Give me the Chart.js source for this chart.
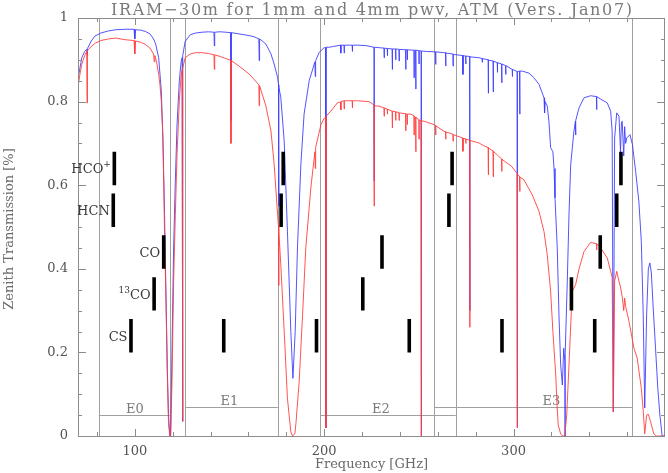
<!DOCTYPE html>
<html><head><meta charset="utf-8">
<script src="https://cdn.jsdelivr.net/npm/chart.js@4.4.0/dist/chart.umd.min.js"></script>
<style>html,body{margin:0;padding:0;background:#fff;overflow:hidden}#wrap{width:668px;height:473px}</style>
</head><body><div id="wrap"><canvas id="c" width="668" height="473"></canvas></div>
<script>
// ---------- texts ----------
const titleText = "IRAM\u221230m for 1mm and 4mm pwv, ATM (Vers. Jan07)";
const xAxisTitle = "Frequency [GHz]";
const yAxisTitle = "Zenith Transmission [%]";

// ---------- axes ----------
const xRange = [70, 380];
const yRange = [0, 1];
const xTickValues = [100, 200, 300];
const xTickLabels = ["100", "200", "300"];
const xMinorStep = 20;
const yTickValues = [0, 0.2, 0.4, 0.6, 0.8, 1];
const yTickLabels = ["0", "0.2", "0.4", "0.6", "0.8", "1"];
const yMinorStep = 0.05;

// ---------- 1mm pwv (blue) ----------
const freq1mm = [70,71,72,73.5,74.6,74.8,75,77,79,82,86,90,95,99.6,100,100.4,103,105.5,108,109.9,111,112.6,114,114.9,115.7,116.5,117.2,117.8,118.5,118.9,119.6,120.5,121.4,122.3,123.5,124.5,125,125.2,125.4,126.6,129.3,132,135.5,139,141.8,142,142.2,145,148,150.6,150.8,151,155,160.4,163,165.5,165.7,165.9,169.2,171.9,173.6,175.4,175.9,176,176.1,177.1,178.9,180.6,182.4,183.5,184.7,185.9,187.7,189.4,192.1,195.1,195.3,195.5,197.4,200,200.8,200.9,201,202.6,205,208.7,208.8,208.9,210.5,210.6,210.7,214.8,214.9,215,217.6,222,226.3,226.4,226.5,229,231.6,231.7,231.8,233.3,233.4,233.5,235.9,236,236.1,237.7,237.8,237.9,239.5,239.6,239.7,243,243.1,243.2,243.8,243.9,244,247.4,247.5,247.6,248.3,248.4,248.5,250,250.1,250.2,251.2,251.3,251.4,254,258.8,258.9,259,263,264.1,264.2,264.3,268,268.1,268.2,273.2,273.3,273.4,274.7,274.8,274.9,276.8,276.9,277,281.8,283.4,283.5,283.6,286.6,286.7,286.8,289.2,289.3,289.4,291.4,291.5,291.6,293.7,293.8,293.9,295.8,295.9,296,299.3,299.4,299.5,301.9,302,302.1,303.2,303.3,303.4,304.6,308.2,310.8,313.5,316.1,316.4,316.7,317.8,318.7,319.6,320.8,321.4,321.9,323.1,324,324.9,325.8,326.5,327.1,327.2,327.3,328.4,329.3,330.2,331.9,332.7,332.8,332.9,334.6,337.2,340.7,343.8,343.9,344,346,349.5,351.3,352.1,352.7,353.4,354.5,355.7,356.5,357,357.4,358.2,358.7,359.2,359.8,361.5,362.8,364.5,366.2,367.5,368.5,369.3,370.3,371.2,372,372.8,373.6,375,376.2,377.3,378.5,380];
const trans1mm = [0.855,0.88,0.905,0.92,0.925,0.912,0.927,0.945,0.957,0.964,0.969,0.972,0.973,0.973,0.95,0.972,0.971,0.968,0.962,0.95,0.938,0.905,0.825,0.705,0.53,0.33,0.154,0.05,0,0,0.19,0.45,0.61,0.745,0.849,0.897,0.905,0.035,0.91,0.944,0.96,0.964,0.966,0.967,0.966,0.933,0.966,0.967,0.966,0.965,0.755,0.965,0.962,0.958,0.955,0.95,0.898,0.95,0.938,0.914,0.89,0.858,0.84,0.55,0.835,0.81,0.705,0.49,0.25,0.138,0.25,0.45,0.65,0.77,0.85,0.895,0.86,0.898,0.918,0.929,0.929,0.02,0.93,0.93,0.932,0.935,0.916,0.935,0.935,0.916,0.935,0.935,0.92,0.935,0.935,0.934,0.93,0.61,0.93,0.929,0.928,0.905,0.928,0.927,0.91,0.927,0.926,0.877,0.926,0.926,0.9,0.926,0.925,0.897,0.925,0.924,0.877,0.924,0.924,0.9,0.924,0.923,0.857,0.923,0.923,0.83,0.923,0.922,0.89,0.922,0.921,0,0.921,0.92,0.919,0.889,0.919,0.917,0.917,0.885,0.916,0.914,0.885,0.913,0.91,0.865,0.91,0.909,0.89,0.909,0.908,0.30,0.907,0.905,0.903,0.894,0.903,0.9,0.82,0.899,0.897,0.823,0.897,0.893,0.87,0.893,0.89,0.845,0.89,0.886,0.865,0.886,0.877,0.86,0.877,0.872,0.02,0.872,0.873,0.77,0.873,0.873,0.868,0.857,0.841,0.809,0.773,0.80,0.79,0.753,0.69,0.68,0.64,0.57,0.45,0.29,0.17,0.122,0.21,0.18,0,0.2,0.37,0.53,0.649,0.729,0.753,0.72,0.755,0.785,0.809,0.814,0.812,0.781,0.812,0.806,0.797,0.777,0.729,0.058,0.713,0.773,0.765,0.68,0.75,0.753,0.67,0.74,0.70,0.713,0.721,0.697,0.633,0.561,0.465,0.29,0.067,0.29,0.40,0.414,0.39,0.32,0.21,0.114,0.05,0,0];

// ---------- 4mm pwv (red) ----------
const freq4mm = [70,71,72,73.5,74.6,74.8,75,77,79.2,82,86.2,90,95,99.6,100,100.4,103,105.5,108,109.9,110.3,110.6,111.5,112.6,113.3,114,114.7,115.3,115.7,116.5,117.2,117.8,118.5,118.9,119.6,120.5,121.4,122.3,123.5,124.5,125,125.2,125.4,126.6,129.3,132,135.5,139,141.8,142,142.2,145,148,150.6,150.8,151,155,160.4,163,165.5,165.7,165.9,169.2,171.9,173.6,175.4,175.9,176,176.1,177.1,178.9,180.6,182.4,183.3,184.5,185.1,186.8,188.6,190.3,193,195.1,195.3,195.5,198.3,200,200.8,200.9,201,203.5,207,208.7,208.8,208.9,210.5,210.6,210.7,214.8,214.9,215,217.6,223.7,226.3,226.4,226.5,229,231.6,231.7,231.8,233.3,233.4,233.5,235.9,236,236.1,237.7,237.8,237.9,239.5,239.6,239.7,243,243.1,243.2,243.8,243.9,244,245.7,247.4,247.5,247.6,248.3,248.4,248.5,250,250.1,250.2,251.2,251.3,251.4,252.8,258,258.8,258.9,259,263.3,264.1,264.2,264.3,266,268,268.1,268.2,270,273.2,273.3,273.4,274.7,274.8,274.9,276.8,276.9,277,281.8,284,286.6,286.7,286.8,289.2,289.3,289.4,291.5,293.7,293.8,293.9,296,299,301.9,302,302.1,303.2,303.3,303.4,305.5,309.9,313.5,316.1,317.8,319.6,320.8,322.3,323,323.6,324.9,326,327,328.1,329.3,331,332.8,334.6,337.2,340.7,343.8,343.9,344,346,349.5,351.3,352.1,352.7,353.4,354.5,355.7,356.6,357.5,358.2,358.7,359.2,361,363.6,365.3,367.5,368.5,369.3,370.3,371.2,372.4,374.1,375.5,380];
const trans4mm = [0.835,0.865,0.889,0.91,0.92,0.797,0.922,0.932,0.94,0.946,0.95,0.952,0.948,0.946,0.914,0.945,0.942,0.937,0.928,0.914,0.895,0.91,0.895,0.865,0.84,0.80,0.73,0.60,0.49,0.31,0.14,0.03,0,0,0.12,0.37,0.53,0.673,0.80,0.865,0.875,0.035,0.88,0.905,0.914,0.917,0.917,0.915,0.912,0.877,0.912,0.908,0.903,0.899,0.70,0.898,0.885,0.866,0.853,0.84,0.79,0.838,0.79,0.73,0.65,0.53,0.50,0.36,0.49,0.41,0.25,0.09,0.01,0,0.005,0.03,0.13,0.29,0.45,0.595,0.68,0.64,0.69,0.745,0.76,0.763,0.02,0.765,0.777,0.797,0.799,0.78,0.8,0.802,0.782,0.802,0.802,0.785,0.802,0.802,0.80,0.792,0.55,0.79,0.789,0.785,0.765,0.785,0.782,0.77,0.782,0.777,0.737,0.777,0.776,0.755,0.775,0.774,0.755,0.773,0.771,0.73,0.771,0.77,0.745,0.77,0.77,0.766,0.72,0.765,0.763,0.68,0.762,0.757,0.71,0.756,0.755,0,0.754,0.753,0.745,0.743,0.72,0.742,0.729,0.728,0.71,0.727,0.725,0.722,0.705,0.721,0.718,0.713,0.681,0.712,0.711,0.70,0.71,0.708,0.26,0.707,0.701,0.695,0.69,0.625,0.689,0.682,0.62,0.681,0.672,0.663,0.633,0.662,0.655,0.645,0.628,0.02,0.627,0.62,0.585,0.619,0.613,0.577,0.537,0.489,0.434,0.346,0.25,0.146,0.074,0.026,0.005,0,0,0.05,0.17,0.346,0.362,0.40,0.441,0.463,0.46,0.445,0.46,0.45,0.426,0.394,0.38,0.058,0.37,0.394,0.37,0.354,0.33,0.30,0.33,0.31,0.274,0.21,0.187,0.114,0.06,0.005,0.05,0.052,0.034,0.005,0,0];

// ---------- molecular line markers ----------
const molLabels = [[["HCO",0],["+",1]], [["HCN",0]], [["CO",0]], [["13",1],["CO",0]], [["CS",0]]];
const molFreqs = [
  [89.19, 178.38, 267.56, 356.73],
  [88.63, 177.26, 265.89, 354.51],
  [115.27, 230.54, 345.80],
  [110.20, 220.40, 330.59],
  [97.98, 146.97, 195.95, 244.94, 293.91, 342.88]
];
const molLow  = [0.60, 0.50, 0.40, 0.30, 0.20];
const molHigh = [0.68, 0.58, 0.48, 0.38, 0.28];

// ---------- receiver bands ----------
const bandNames = ["E0", "E1", "E2", "E3"];
const bandLow   = [81, 126.5, 198, 258];
const bandHigh  = [118.5, 175.5, 269.5, 362.5];
const bandLevel = [0.05, 0.07, 0.05, 0.07];
const bandLabelAt = [100, 150, 230, 320];

// ---------- build datasets ----------
const datasets = [];
molFreqs.forEach((fs, i) => {
  const d = [];
  fs.forEach(f => { d.push({x:f, y:molLow[i]}, {x:f, y:molHigh[i]}, {x:f, y:null}); });
  datasets.push({label:"mol"+i, data:d, borderColor:"#000", borderWidth:3.6, pointRadius:0, spanGaps:false, order:0, borderCapStyle:"butt"});
});
datasets.push({label:"4mm", data:freq4mm.map((f,i)=>({x:f,y:trans4mm[i]})), borderColor:"rgba(255,60,60,0.88)", borderWidth:1, pointRadius:0, tension:0, order:1});
datasets.push({label:"1mm", data:freq1mm.map((f,i)=>({x:f,y:trans1mm[i]})), borderColor:"rgba(60,60,255,0.88)", borderWidth:1, pointRadius:0, tension:0, order:2});

const SERIF = "'DejaVu Serif', 'Liberation Serif', serif";
const frameColor = "#8c8c8c";

function hline(ctx, x1, x2, y){ ctx.beginPath(); ctx.moveTo(x1, y); ctx.lineTo(x2, y); ctx.stroke(); }
function vline(ctx, x, y1, y2){ ctx.beginPath(); ctx.moveTo(x, y1); ctx.lineTo(x, y2); ctx.stroke(); }

const deco = {
  id: "deco",
  beforeDatasetsDraw(chart) {
    const {ctx, chartArea:a, scales:{x, y}} = chart;
    ctx.save();
    ctx.strokeStyle = "#a0a0a0"; ctx.lineWidth = 1;
    [...bandLow, ...bandHigh].forEach(f => {
      const px = Math.round(x.getPixelForValue(f)) + 0.5;
      vline(ctx, px, a.top, a.bottom);
    });
    ctx.font = "13px " + SERIF; ctx.fillStyle = "#7a7a7a";
    ctx.textAlign = "center"; ctx.textBaseline = "alphabetic";
    bandNames.forEach((n, i) => {
      const py = Math.round(y.getPixelForValue(bandLevel[i])) + 0.5;
      hline(ctx, x.getPixelForValue(bandLow[i]), x.getPixelForValue(bandHigh[i]), py);
      ctx.fillText(n, x.getPixelForValue(bandLabelAt[i]), py - 3);
    });
    ctx.restore();
  },
  afterDatasetsDraw(chart) {
    const {ctx, chartArea:a, scales:{x, y}} = chart;
    ctx.save();
    ctx.strokeStyle = frameColor; ctx.lineWidth = 1;
    ctx.strokeRect(Math.round(a.left) + 0.5, Math.round(a.top) + 0.5, Math.round(a.right - a.left) - 1, Math.round(a.bottom - a.top));
    // x ticks (bottom and top, inward)
    for (let v = Math.ceil(xRange[0] / xMinorStep) * xMinorStep; v < xRange[1]; v += xMinorStep) {
      const px = Math.round(x.getPixelForValue(v)) + 0.5;
      const len = xTickValues.includes(v) ? 7 : 4;
      vline(ctx, px, a.bottom, a.bottom - len);
      vline(ctx, px, a.top, a.top + len);
    }
    for (let k = 1; k * yMinorStep < yRange[1] - 1e-9; k++) {
      const v = k * yMinorStep;
      const py = Math.round(y.getPixelForValue(v)) + 0.5;
      const major = yTickValues.some(t => Math.abs(t - v) < 1e-9);
      const len = major ? 8 : 4;
      hline(ctx, a.left, a.left + len, py);
      hline(ctx, a.right, a.right - len, py);
    }
    // molecule labels
    molLabels.forEach((parts, i) => {
      let xr = x.getPixelForValue(molFreqs[i][0]) - 3.5;
      const yc = y.getPixelForValue((molLow[i] + molHigh[i]) / 2);
      ctx.fillStyle = "#3a3a3a"; ctx.textAlign = "right"; ctx.textBaseline = "alphabetic";
      for (let p = parts.length - 1; p >= 0; p--) {
        const [t, sup] = parts[p];
        ctx.font = (sup ? "9px " : "13px ") + SERIF;
        ctx.fillText(t, xr, sup ? yc - 1 : yc + 5);
        xr -= ctx.measureText(t).width + (sup ? 0 : 0);
      }
    });
    ctx.restore();
  },
  afterDraw(chart) {
    const {ctx, chartArea:a} = chart;
    ctx.save();
    // title
    ctx.font = "16px " + SERIF; ctx.fillStyle = "#7a7a7a";
    ctx.textAlign = "left"; ctx.textBaseline = "alphabetic";
    ctx.letterSpacing = "0px";
    const w0 = ctx.measureText(titleText).width;
    const target = 521;
    const ls = (target - w0) / (titleText.length - 1);
    ctx.letterSpacing = ls.toFixed(2) + "px";
    const cx = (a.left + a.right) / 2;
    ctx.fillText(titleText, cx - target / 2, 15);
    ctx.letterSpacing = "0px";
    // x title
    ctx.font = "13px " + SERIF; ctx.fillStyle = "#6a6a6a"; ctx.textAlign = "center";
    ctx.fillText(xAxisTitle, cx, 468);
    // y title
    ctx.translate(13, (a.top + a.bottom) / 2 + 2);
    ctx.rotate(-Math.PI / 2);
    ctx.fillText(yAxisTitle, 0, 0);
    ctx.restore();
  }
};

new Chart(document.getElementById("c"), {
  type: "line",
  data: { datasets },
  options: {
    responsive: false, animation: false, devicePixelRatio: 1,
    layout: { padding: { left: 0, right: 3, top: 18, bottom: 0 } },
    plugins: { legend: { display: false }, tooltip: { enabled: false }, title: { display: false } },
    elements: { line: { borderJoinStyle: "round" } },
    scales: {
      x: {
        type: "linear", min: xRange[0], max: xRange[1],
        grid: { display: false, drawTicks: false }, border: { display: false },
        afterBuildTicks: s => { s.ticks = xTickValues.map(v => ({ value: v })); },
        afterFit: s => { s.height = 37; },
        ticks: { padding: 8, color: "#555", font: { family: SERIF, size: 13 }, maxRotation: 0, autoSkip: false,
                 callback: (v, i) => xTickLabels[i] }
      },
      y: {
        type: "linear", min: yRange[0], max: yRange[1],
        grid: { display: false, drawTicks: false }, border: { display: false },
        afterBuildTicks: s => { s.ticks = yTickValues.map(v => ({ value: v })); },
        afterFit: s => { s.width = 78; },
        ticks: { padding: 10, color: "#555", font: { family: SERIF, size: 13 }, autoSkip: false,
                 callback: (v, i) => yTickLabels[i] }
      }
    }
  },
  plugins: [deco]
});
</script></body></html>
